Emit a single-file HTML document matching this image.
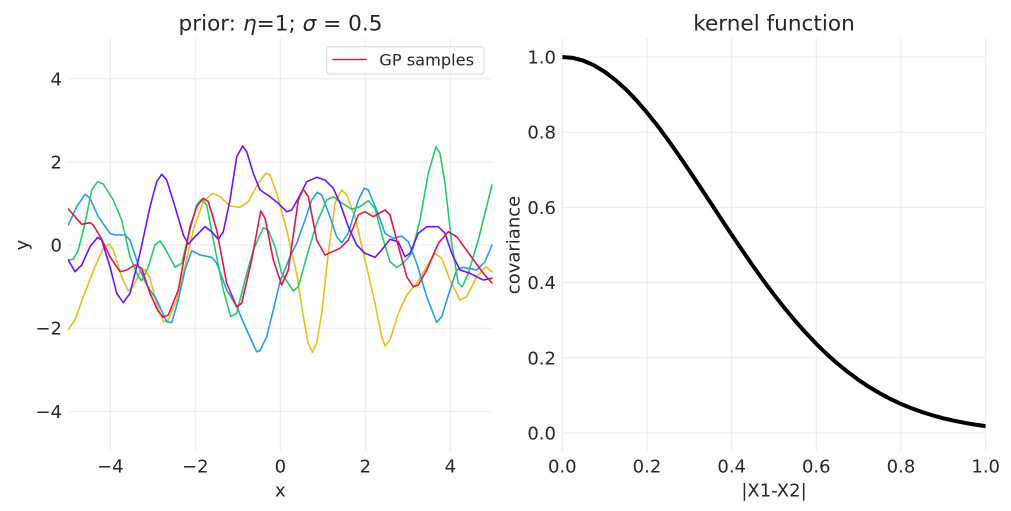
<!DOCTYPE html>
<html>
<head>
<meta charset="utf-8">
<style>
html,body{margin:0;padding:0;background:#fff;}
svg{display:block;}
text{font-family:"DejaVu Sans","Liberation Sans",sans-serif;fill:#262626;}
</style>
</head>
<body>
<svg width="1011" height="511" viewBox="0 0 1011 511" xmlns="http://www.w3.org/2000/svg">
<defs>
<clipPath id="c1"><rect x="67.8" y="37" width="425" height="416"/></clipPath>
<clipPath id="c2"><rect x="562.3" y="37" width="423.4" height="414"/></clipPath>
</defs>

<!-- LEFT grid -->
<g stroke="#ebebeb" stroke-width="1">
<line x1="110.3" y1="38" x2="110.3" y2="451"/>
<line x1="195.3" y1="38" x2="195.3" y2="451"/>
<line x1="280.3" y1="38" x2="280.3" y2="451"/>
<line x1="365.3" y1="38" x2="365.3" y2="451"/>
<line x1="450.3" y1="38" x2="450.3" y2="451"/>
<line x1="68" y1="78.8" x2="492" y2="78.8"/>
<line x1="68" y1="162" x2="492" y2="162"/>
<line x1="68" y1="245" x2="492" y2="245"/>
<line x1="68" y1="328.2" x2="492" y2="328.2"/>
<line x1="68" y1="411.4" x2="492" y2="411.4"/>
</g>

<text x="280.5" y="30.5" font-size="21.6" text-anchor="middle">prior: <tspan font-style="italic">η</tspan>=1; <tspan font-style="italic">σ</tspan> = 0.5</text>

<g font-size="18" text-anchor="end">
<text x="62" y="85.3">4</text>
<text x="62" y="168.5">2</text>
<text x="62" y="251.5">0</text>
<text x="62" y="334.7">−2</text>
<text x="62" y="417.9">−4</text>
</g>
<g font-size="18" text-anchor="middle">
<text x="110.3" y="472.5">−4</text>
<text x="195.3" y="472.5">−2</text>
<text x="280.3" y="472.5">0</text>
<text x="365.3" y="472.5">2</text>
<text x="450.3" y="472.5">4</text>
</g>
<text x="280.3" y="496.5" font-size="18" text-anchor="middle">x</text>
<text transform="translate(28,245) rotate(-90)" font-size="18" text-anchor="middle">y</text>

<g clip-path="url(#c1)" fill="none" stroke-width="1.6" stroke-linejoin="round" stroke-linecap="round">
<polyline stroke="#e8bd22" points="68.3,329.3 75,320 83.3,296.7 95,266.7 103.3,248.3 109.3,244 113.3,250 121.7,276.7 128.3,290.7 133.3,286.7 140,271.7 145,270 150,278.3 156.7,303.3 163.3,321.7 168.3,320 176.7,300 185,266.7 193.3,230 203.3,201.7 212.7,193.3 220,196.7 230,206 240,207.3 248.3,201.7 258.3,183.3 266,173.3 270,175 276.7,193 286.7,230 296.7,273.3 303.3,316.7 308.3,343.3 312.3,352.3 316.7,343.3 321.7,313.3 328.3,253.3 335,203.3 341.7,190 346.7,195 355,216.7 365,260 375,303.3 381.7,336.7 385,346 390,340 398.3,313.3 406.7,295 416.7,283.3 426.7,266.7 435,253.3 441.7,258.3 450,280 460,300 466.7,296.7 476.7,276.7 486,266.7 492,271.7"/>
<polyline stroke="#2a9ae8" points="68.3,225 76.7,206.7 85,194.3 90,198.3 98.3,216.7 110,233.3 115,235 125,235 130,240 140,270 146.7,285 156.7,300 166.7,321.7 171.7,322.7 178.3,300 185,270 191.7,250.7 200,255 211.7,257.3 216.7,263.3 226.7,290 236.7,306.7 246.7,330 256.7,351.7 260,350.7 266.7,336.7 273.3,310 280,281.7 290,256.7 296.7,243.3 305,220 311.7,200 317.3,192.3 321.7,195 330,216.7 336.7,236.7 341.7,242.7 348.3,233.3 358.3,200 364.3,188.3 368.3,190 376.7,210 385,233.3 393.3,238.3 401.7,236 408.3,241.7 416.7,263.3 426.7,296.7 436.7,322.3 441.7,316.7 450,290 456.7,270 463.3,267.3 476.7,270 485,261.7 492,245"/>
<polyline stroke="#28c868" points="68.3,260 73.3,259.3 78.3,250 85,223.3 91.7,190 97.7,181.7 103.3,184 113.3,200 121.7,220 130,256.7 138.3,276.7 141.7,280.7 148.3,266.7 155,245 160,241 165,248.3 175,267.3 181.7,263.3 190,230 196.7,205 201.7,199.3 206.7,205 213.3,240 223.3,290 230.7,316.7 236.7,313.3 245,280 253.3,250 263.3,227.7 268.3,230 275,246.7 281.7,273.3 293.3,291 298.3,286.7 306.7,256.7 316.7,223.3 326.7,200 333.3,196.7 340,201.7 351.7,209.3 360,206.7 368.3,200.7 375,208.3 383.3,240 390,261.7 396.7,267.3 403.3,263.3 411.7,253.3 420,220 428.3,173.3 436,146.7 440,153.3 445,183.3 451.7,243.3 458.3,283.3 462.3,286.7 468.3,273.3 478.3,240 492,185"/>
<polyline stroke="#6f12fa" points="68.3,260 75,271.7 81.7,265 90,246.7 97.7,237.3 101.7,240 110,266.7 116.7,293.3 123.3,302.7 130,293.3 140,253.3 150,206.7 156.7,181.7 161.7,174.3 166.7,180 175,206.7 183.3,235 188.3,244 195,236.7 205,226.7 211.7,231.7 218.3,239.3 223.3,231.7 230,200 236.7,156.7 242.7,146 246.7,151.7 253.3,173.3 260,190 270,196.7 278.3,203.3 286.7,211.7 291.7,210 298.3,198.3 306.7,181.7 316.7,177.3 325,180 333.3,188.3 340,203.3 348.3,226.7 356.7,245 365,253.3 375,257.3 381.7,250 390,239.3 398.3,241.7 405,256.7 410,253.3 418.3,233.3 426.7,226.7 438.3,226.7 445,233.3 451.7,253.3 460,270 470,273.3 483.3,280 492,278.3"/>
<polyline stroke="#d81b4a" points="68.3,209 81.7,224.3 90,222.7 93.3,225 101,238 110,256.7 120,271.7 126.7,270 135,265 141.7,268.3 150,293.3 158,311 163.3,317.3 168.3,315 178.3,290 190,226.7 197,206 203.3,198.3 208.3,201.7 216.7,230 226.7,283.3 236.7,306.7 241.7,303.3 251.7,260 260.7,211 265,218 273.3,260 281.7,285 288.3,270 298.3,200 303.3,189.3 308.3,196.7 316.7,240 325,255 340,248.3 348.3,240 358.3,215 365,211.7 373.3,216.7 385,210 390,215 396.7,240 406.7,276.7 413.3,286.7 418.3,285 426.7,270 438.3,243.3 448.3,231.7 456.7,236.7 470,255 483.3,273.3 492,283"/>
</g>

<!-- legend -->
<rect x="326.7" y="46.7" width="157.3" height="27.3" rx="3" ry="3" fill="#ffffff" fill-opacity="0.85" stroke="#d6d6d6" stroke-width="1"/>
<line x1="332.3" y1="59.5" x2="366.7" y2="59.5" stroke="#d81b4a" stroke-width="1.6"/>
<text x="379.3" y="65.5" font-size="16.2">GP samples</text>

<!-- RIGHT grid -->
<g stroke="#ebebeb" stroke-width="1">
<line x1="562.3" y1="38" x2="562.3" y2="451"/>
<line x1="647" y1="38" x2="647" y2="451"/>
<line x1="731.7" y1="38" x2="731.7" y2="451"/>
<line x1="816.3" y1="38" x2="816.3" y2="451"/>
<line x1="901" y1="38" x2="901" y2="451"/>
<line x1="985.7" y1="38" x2="985.7" y2="451"/>
<line x1="562.3" y1="57" x2="986" y2="57"/>
<line x1="562.3" y1="132.2" x2="986" y2="132.2"/>
<line x1="562.3" y1="207.4" x2="986" y2="207.4"/>
<line x1="562.3" y1="282.6" x2="986" y2="282.6"/>
<line x1="562.3" y1="357.8" x2="986" y2="357.8"/>
<line x1="562.3" y1="433" x2="986" y2="433"/>
</g>

<text x="774" y="30.5" font-size="21.6" text-anchor="middle">kernel function</text>

<g font-size="18" text-anchor="end">
<text x="556" y="63.5">1.0</text>
<text x="556" y="138.7">0.8</text>
<text x="556" y="213.9">0.6</text>
<text x="556" y="289.1">0.4</text>
<text x="556" y="364.3">0.2</text>
<text x="556" y="439.5">0.0</text>
</g>
<g font-size="18" text-anchor="middle">
<text x="562.3" y="472.5">0.0</text>
<text x="647" y="472.5">0.2</text>
<text x="731.7" y="472.5">0.4</text>
<text x="816.3" y="472.5">0.6</text>
<text x="901" y="472.5">0.8</text>
<text x="985.7" y="472.5">1.0</text>
</g>
<text x="774" y="496.5" font-size="18" text-anchor="middle">|X1-X2|</text>
<text transform="translate(519.5,245) rotate(-90)" font-size="18" text-anchor="middle">covariance</text>

<g clip-path="url(#c2)">
<polyline fill="none" stroke="#000" stroke-width="4" stroke-linejoin="round" points="562.3,57 573,57.9 583.5,60.74 594,65.3 604.6,71.74 615.2,79.8 625.8,89.36 636.4,100.3 647,112.6 657.6,125.9 668.2,140.17 678.7,155.1 689.3,170.67 699.9,186.6 710.5,202.65 721.1,218.8 731.7,234.74 742.3,250.4 752.8,265.73 763.4,280.5 774,294.68 784.6,308.1 795.2,320.88 805.8,332.8 816.3,343.91 826.9,354.2 837.5,363.62 848.1,372.2 858.7,380.04 869.3,387.1 879.9,393.37 890.4,399 901,403.94 911.6,408.3 922.2,412.1 932.8,415.4 943.4,418.28 953.9,420.7 964.5,422.83 975.1,424.6 985.7,426.11"/>
</g>
</svg>
</body>
</html>
